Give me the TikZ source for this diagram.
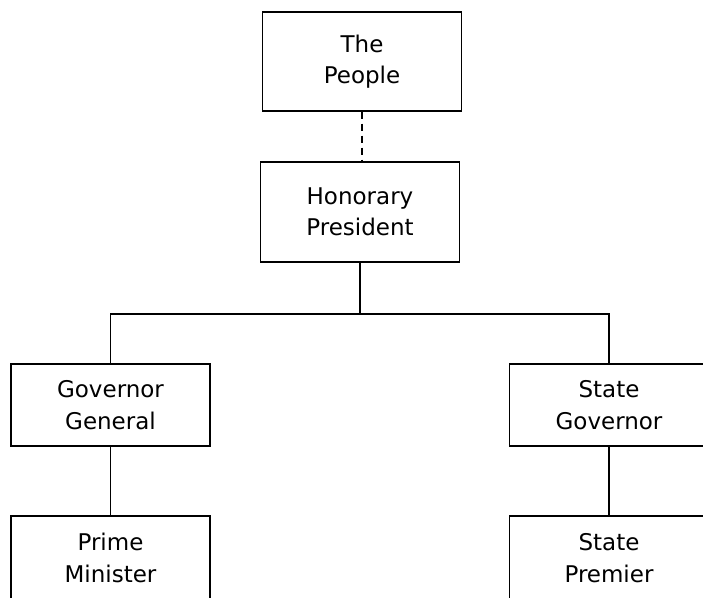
\documentclass[tikz,border=0pt]{standalone}
\usepackage{fontspec}
\setmainfont{DejaVu Sans}
\begin{document}
\begin{tikzpicture}[x=1pt,y=-1pt,
  line width=1.4pt,
  office/.style={draw, rectangle, inner sep=0pt, minimum width=199pt,
    align=center, font=\fontsize{23}{31.5}\selectfont},
  link/.style={draw, line width=1.4pt},
  dashlink/.style={link, dash pattern=on 7pt off 5pt}]
  \useasboundingbox (0,0) rectangle (703,597);
  \clip (0,0) rectangle (703,597);

  % offices
  \node[office, minimum height=99pt]  (people) at (362,61.5) {The\\People};
  \node[office, minimum height=100pt] (hp)     at (360,212)  {Honorary\\President};
  \node[office, minimum height=82pt]  (gg)     at (110.5,405) {Governor\\General};
  \node[office, minimum height=82pt]  (sg)     at (609,405)  {State\\Governor};
  \node[office, minimum height=84pt]  (pm)     at (110.5,558) {Prime\\Minister};
  \node[office, minimum height=84pt]  (sp)     at (609,558)  {State\\Premier};

  % branch point below the president
  \coordinate (bus) at (360,314);

  % connectors
  \draw[dashlink] (people.south) -- (people.south |- hp.north);
  \draw[link] (hp.south) -- (bus);
  \draw[link] (bus) -| (gg.north);
  \draw[link] (bus) -| (sg.north);
  \draw[link] (gg.south) -- (pm.north);
  \draw[link] (sg.south) -- (sp.north);
\end{tikzpicture}
\end{document}
